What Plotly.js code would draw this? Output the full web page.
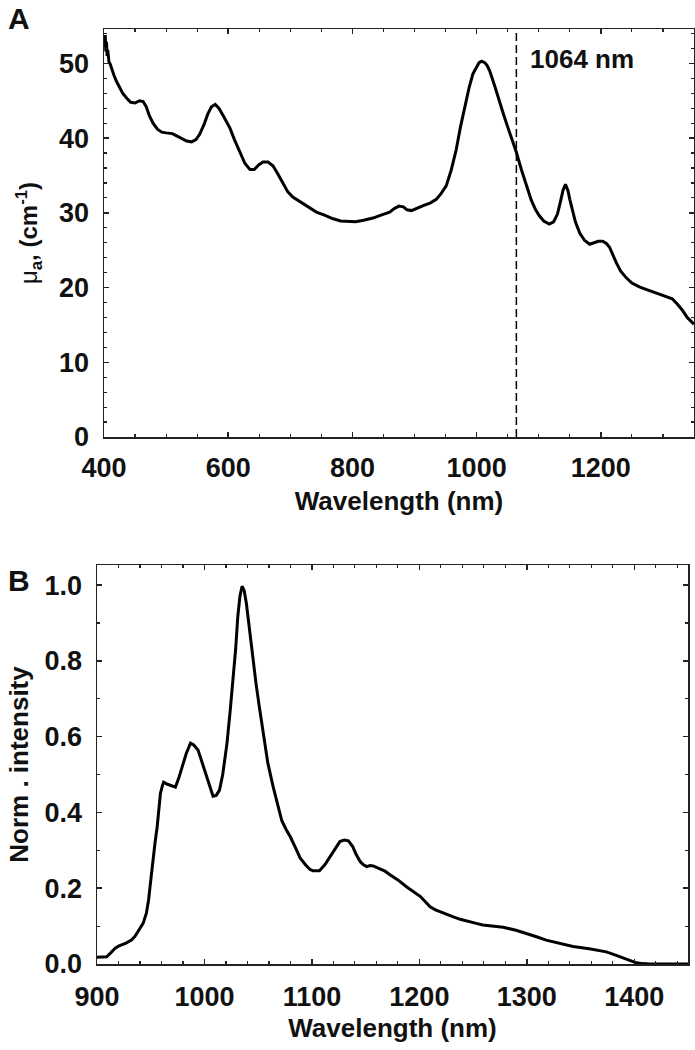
<!DOCTYPE html>
<html>
<head>
<meta charset="utf-8">
<script src="https://cdn.plot.ly/plotly-3.0.1.min.js"></script>
<style>html,body{margin:0;padding:0;background:#fff;}#chart{width:695px;height:1050px;}</style>
</head>
<body>
<div id="chart"></div>
<script>
// Panel A: absorption coefficient
const absWavelength = [400,401,402,403,404,405,406,408,410,413,416,420,425,430,437,443,450,457,463,468,473,479,486,493,500,510,517,525,533,541,548,554,561,567,573,579,585,592,598,603,610,619,627,635,642,649,656,664,672,680,688,696,704,715,728,742,755,769,781,793,805,818,833,846,860,868,875,882,888,895,905,915,925,935,943,951,959,967,974,981,988,994,1000,1004,1008,1013,1017,1021,1029,1037,1044,1050,1057,1064,1072,1080,1088,1095,1101,1108,1117,1124,1130,1135,1139,1143,1147,1150,1153,1159,1166,1174,1182,1190,1196,1203,1209,1214,1219,1225,1232,1241,1250,1262,1275,1285,1294,1305,1315,1323,1331,1339,1347,1350];
const absMuA = [53.5,52.2,53.8,51.6,52.9,51.0,51.8,50.2,49.9,49.0,48.4,47.6,46.8,46.0,45.3,44.8,44.7,45.0,44.9,44.2,43.0,42.0,41.2,40.8,40.7,40.6,40.3,39.9,39.6,39.5,39.8,40.5,41.8,43.2,44.2,44.5,44.0,43.0,42.0,41.3,39.8,38.0,36.6,35.8,35.8,36.4,36.8,36.8,36.3,35.2,33.9,32.8,32.1,31.5,30.8,30.1,29.7,29.2,28.9,28.8,28.8,29.0,29.3,29.7,30.1,30.6,30.9,30.8,30.4,30.3,30.7,31.0,31.3,31.8,32.6,33.6,35.7,38.4,41.5,44.3,46.8,48.6,49.6,50.1,50.3,50.1,49.7,49.0,47.0,44.7,43.0,41.5,39.8,38.1,35.8,33.6,31.7,30.4,29.6,28.9,28.5,28.8,29.8,31.5,33.0,33.8,33.0,31.8,30.8,28.8,27.3,26.3,25.8,26.0,26.2,26.2,25.9,25.4,24.4,23.3,22.2,21.3,20.6,20.1,19.7,19.4,19.2,18.9,18.5,17.8,17.0,16.0,15.3,15.1];
const laserLine = [1064, 1064];
const laserLineY = [0, 54.6];
const laserLabel = "1064 nm";

// Panel B: normalized emission intensity
const emWavelength = [900,905,909,913,917,920,923,927,932,935,938,941,943,946,948,950,952,954,956,958,959,961,962,965,968,971,973,976,979,983,987,990,994,998,1003,1006,1008,1011,1014,1017,1021,1024,1027,1029,1031,1033,1035,1037,1039,1042,1045,1048,1051,1055,1059,1064,1069,1072,1076,1080,1085,1089,1094,1098,1101,1107,1112,1117,1122,1126,1130,1134,1138,1141,1145,1148,1151,1154,1157,1162,1168,1173,1180,1188,1195,1201,1206,1210,1215,1219,1225,1231,1238,1244,1252,1259,1268,1278,1290,1300,1309,1318,1330,1343,1358,1374,1382,1389,1396,1402,1408,1414,1450];
const emIntensity = [0.018,0.018,0.019,0.03,0.042,0.047,0.05,0.055,0.063,0.072,0.085,0.098,0.108,0.135,0.169,0.22,0.274,0.32,0.362,0.414,0.45,0.472,0.48,0.475,0.472,0.468,0.467,0.49,0.52,0.555,0.583,0.578,0.565,0.53,0.485,0.455,0.443,0.445,0.459,0.5,0.583,0.67,0.757,0.83,0.916,0.97,0.997,0.985,0.952,0.88,0.802,0.74,0.68,0.6,0.53,0.467,0.414,0.378,0.355,0.335,0.305,0.28,0.262,0.25,0.246,0.246,0.262,0.283,0.305,0.323,0.327,0.325,0.31,0.29,0.27,0.262,0.257,0.26,0.259,0.253,0.245,0.235,0.222,0.204,0.19,0.178,0.163,0.151,0.143,0.138,0.131,0.125,0.118,0.113,0.108,0.103,0.1,0.097,0.089,0.081,0.072,0.063,0.055,0.046,0.04,0.032,0.024,0.016,0.008,0.003,0.001,0.0,0.0];

const FONT = "Liberation Sans, Arial, Helvetica, sans-serif";
const tickFont = {family: FONT, size: 27, color: "#111", weight: "bold"};
const titleFont = {family: FONT, size: 26, color: "#111", weight: "bold"};

function axisBase(extra) {
  return Object.assign({
    showline: true, linecolor: "#222", linewidth: 1.5, mirror: "allticks",
    ticks: "inside", ticklen: 5, tickwidth: 1.5, tickcolor: "#222",
    showgrid: false, zeroline: false, tickfont: tickFont, automargin: false,
    fixedrange: true
  }, extra);
}

const traces = [
  {x: absWavelength, y: absMuA, xaxis: "x", yaxis: "y", mode: "lines",
   line: {color: "#000", width: 3}, hoverinfo: "skip"},
  {x: laserLine, y: laserLineY, xaxis: "x", yaxis: "y", mode: "lines",
   line: {color: "#000", width: 1.5, dash: "8px,4px"}, hoverinfo: "skip"},
  {x: emWavelength, y: emIntensity, xaxis: "x2", yaxis: "y2", mode: "lines",
   line: {color: "#000", width: 3}, hoverinfo: "skip"}
];

const layout = {
  width: 695, height: 1050,
  margin: {l: 0, r: 0, t: 0, b: 0},
  paper_bgcolor: "#fff", plot_bgcolor: "#fff",
  showlegend: false,
  xaxis: axisBase({
    domain: [104/695, 694/695], anchor: "y", range: [400, 1350],
    tick0: 400, dtick: 200, ticklabelstandoff: 6,
    minor: {ticks: "inside", dtick: 50, ticklen: 3, tickwidth: 1.2, tickcolor: "#222"},
    title: {text: "Wavelength (nm)", font: titleFont, standoff: 10}
  }),
  yaxis: axisBase({
    domain: [1 - 437/1050, 1 - 29/1050], anchor: "x", range: [0, 54.6],
    tick0: 0, dtick: 10, ticklabelstandoff: 8,
    minor: {ticks: "inside", dtick: 2, ticklen: 3, tickwidth: 1.2, tickcolor: "#222"},
    title: {text: "<span style='font-weight:normal'>μ</span><sub>a</sub>, (cm<sup>-1</sup>)", font: {family: FONT, size: 24, color: "#111", weight: "bold"}, standoff: 14}
  }),
  xaxis2: axisBase({
    domain: [97/695, 688/695], anchor: "y2", range: [900, 1450],
    tick0: 900, dtick: 100, ticklabelstandoff: 8,
    minor: {ticks: "inside", dtick: 20, ticklen: 3, tickwidth: 1.2, tickcolor: "#222"},
    title: {text: "Wavelength (nm)", font: titleFont, standoff: 8}
  }),
  yaxis2: axisBase({
    domain: [1 - 964/1050, 1 - 565/1050], anchor: "x2", range: [0, 1.053],
    tick0: 0, dtick: 0.2, tickformat: ".1f", ticklabelstandoff: 8,
    minor: {ticks: "inside", dtick: 0.1, ticklen: 3, tickwidth: 1.2, tickcolor: "#222"},
    title: {text: "Norm . intensity", font: titleFont, standoff: 8}
  }),
  annotations: [
    {text: "A", xref: "paper", yref: "paper", x: 6/695, y: 1 - 0/1050, xanchor: "left", yanchor: "top",
     showarrow: false, font: {family: FONT, size: 30, color: "#111", weight: "bold"}},
    {text: "B", xref: "paper", yref: "paper", x: 6/695, y: 1 - 562/1050, xanchor: "left", yanchor: "top",
     showarrow: false, font: {family: FONT, size: 30, color: "#111", weight: "bold"}},
    {text: laserLabel, xref: "x", yref: "y", x: 1082, y: 50.6, xanchor: "left", yanchor: "middle",
     showarrow: false, font: {family: FONT, size: 26, color: "#111", weight: "bold"}}
  ]
};

Plotly.newPlot("chart", traces, layout, {displayModeBar: false, staticPlot: true});
</script>
</body>
</html>
